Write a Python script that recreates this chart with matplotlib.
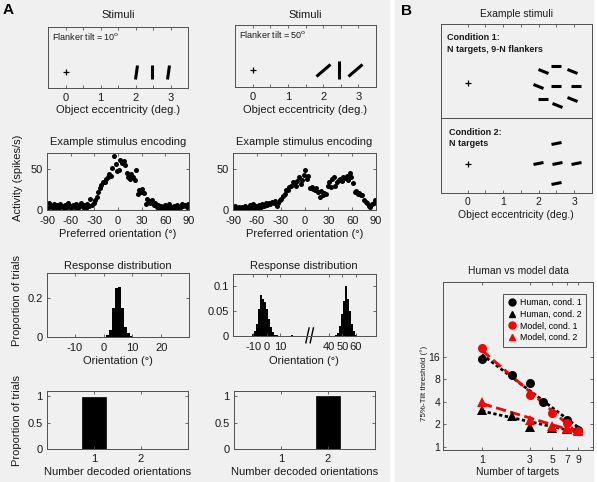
import numpy as np
import matplotlib
matplotlib.use('Agg')
import matplotlib.pyplot as plt
from matplotlib.markers import MarkerStyle
from matplotlib.transforms import Affine2D, blended_transform_factory
from matplotlib.lines import Line2D
from matplotlib.patches import Rectangle
from matplotlib.ticker import NullLocator

plt.rcParams['font.family'] = ['Liberation Sans', 'DejaVu Sans']
plt.rcParams['axes.unicode_minus'] = False

# ---------------- data ----------------
# Panel A stimuli: (eccentricity, tilt from vertical in degrees)
stim_left_x = [2.02, 2.48, 2.93]
stim_left_tilt = [10, 0, 10]
stim_right_x = [2.0, 2.45, 2.9]
stim_right_tilt = [50, 0, 50]

# Encoding (preferred orientation vs activity)
pref_ori = list(range(-89, 90, 2))
act_left = [3, 9, 5, 2, 7, 4, 6, 3, 7, 5, 2, 6, 4, 8, 5, 3, 6, 4, 7, 3, 5, 8, 4, 6, 3, 7, 5, 14, 6, 9,
            12, 16, 22, 27, 31, 35, 34, 38, 41, 44, 42, 51, 66, 57, 48, 49, 62, 58, 60, 55, 46, 41, 38, 44, 40,
            37, 49, 20, 24, 22, 26, 21, 7, 13, 11, 9, 12, 6, 8, 4, 6, 3, 5, 2, 6, 4, 3, 7, 4, 3,
            5, 2, 6, 4, 3, 7, 5, 6, 4, 7]
act_right = [4, 5, 3, 4, 2, 4, 3, 5, 2, 3, 6, 4, 7, 3, 5, 2, 6, 4, 7, 5, 8, 6, 9, 7, 10, 8, 11, 5, 9, 12,
             14, 17, 20, 24, 25, 28, 30, 35, 33, 30, 36, 40, 32, 37, 43, 49, 38, 42, 27, 28, 26, 24, 27, 22, 16,
             23, 18, 21, 20, 30, 34, 28, 38, 40, 30, 35, 37, 38, 36, 40, 39, 42, 37, 45, 40, 33, 22, 23, 20, 21,
             18, 19, 12, 10, 8, 5, 4, 7, 9, 12]

# Response distributions
hist_left_centers = [1.5, 2.5, 3.5, 4.5, 5.5, 6.5, 7.5, 8.5, 9.5, 12.5]
hist_left_props = [0.01, 0.035, 0.15, 0.252, 0.26, 0.15, 0.05, 0.02, 0.005, 0.002]
hist_right_centers = [-12, -10.5, -9, -7.5, -6, -4.5, -3, -1.5, 0, 1.5, 3, 4.5, 6, 7.5, 12, 19,
                      45, 46.5, 48, 49.5, 51, 52.5, 54, 55.5, 57, 58.5, 60]
hist_right_props = [0.001, 0.004, 0.01, 0.025, 0.055, 0.083, 0.075, 0.068, 0.055, 0.035, 0.018, 0.008, 0.003,
                    0.002, 0.001, 0.002,
                    0.002, 0.006, 0.02, 0.045, 0.07, 0.1, 0.075, 0.05, 0.025, 0.01, 0.003]

# Number of decoded orientations
n_decoded = [1, 2]
prop_left = [0.98, 0.005]
prop_right = [0.004, 1.0]

# Panel B stimuli: (x, y, orientation from horizontal)
cond1_x = [2.12, 2.5, 2.93, 1.98, 2.5, 3.05, 2.12, 2.52, 2.93]
cond1_y = [1.34, 1.49, 1.34, 0.91, 0.91, 0.91, 0.54, 0.38, 0.54]
cond1_ori = [-20, 0, -20, -20, 0, 0, 0, -20, -25]
cond2_x = [2.5, 1.98, 2.52, 3.05, 2.5]
cond2_y = [1.40, 0.83, 0.83, 0.85, 0.28]
cond2_ori = [15, 15, 15, 15, 15]

# Human vs model thresholds
human_n1 = [1, 2, 3, 4, 7, 9]
human_c1 = [14.7, 9.1, 7.2, 3.9, 2.3, 1.67]
human_n2 = [1, 2, 3, 5, 7, 9]
human_c2 = [3.1, 2.6, 1.85, 1.8, 1.7, 1.65]
model_n = [1, 3, 5, 7, 9]
model_c1 = [20.7, 4.9, 2.8, 2.1, 1.6]
model_c2 = [3.9, 2.3, 1.9, 1.75, 1.6]

# ---------------- figure ----------------
W, H = 597, 482
fig = plt.figure(figsize=(W / 100, H / 100), dpi=100)
fig.patch.set_facecolor('white')
BG = '#f0f0f0'
fig.add_artist(Rectangle((0, 0), 389 / W, 1, transform=fig.transFigure, color=BG, zorder=-10))
fig.add_artist(Rectangle((395 / W, 0), (593 - 395) / W, 1, transform=fig.transFigure, color=BG, zorder=-10))

AX_COL = '#505050'
TXT = '#1a1a1a'


def add_ax(l, t, r, b, fs=8, pad=4.0):
    ax = fig.add_axes([l / W, 1 - b / H, (r - l) / W, (b - t) / H])
    ax.set_facecolor('none')
    for s in ax.spines.values():
        s.set_linewidth(0.7)
        s.set_color(AX_COL)
    ax.tick_params(direction='in', length=2.5, width=0.6, color=AX_COL, top=True, right=True,
                   labelsize=fs, pad=pad, labelcolor=TXT)
    ax.tick_params(axis='y', pad=3.0)
    return ax


def ftext(x, y, s, **kw):
    kw.setdefault('ha', 'center')
    kw.setdefault('va', 'center')
    kw.setdefault('fontsize', 8)
    kw.setdefault('color', TXT)
    fig.text(x / W, 1 - y / H, s, **kw)


def bar_marker(angle, base='|'):
    return MarkerStyle(base, transform=Affine2D().rotate_deg(angle))


half_ticks = np.arange(0, 3.01, 0.5)
half_labels = ['0', '', '1', '', '2', '', '3']

# ---- A: stimuli ----
for (l, t, r, b), xs, tilts, tiltlabel, msz, yc in [
        ((48, 27, 188, 88), stim_left_x, stim_left_tilt, '10', 10, 0.26),
        ((235, 25, 376, 87), stim_right_x, stim_right_tilt, '50', 13, 0.27)]:
    ax = add_ax(l, t, r, b, pad=3.5)
    ax.set_xlim(-0.5, 3.5)
    ax.set_ylim(0, 1)
    ax.set_xticks(half_ticks)
    ax.set_xticklabels(half_labels)
    ax.set_yticks([])
    ax.plot([0], [yc + 0.01], marker='+', color='k', markersize=4, mew=0.9)
    for xv, tv in zip(xs, tilts):
        ax.plot([xv], [yc], marker=bar_marker(-tv), color='k', markersize=msz, mew=2.2, linestyle='none')
    ax.text(0.03, 0.85, 'Flanker tilt = ' + tiltlabel + r'$^{\rm o}$', transform=ax.transAxes,
            fontsize=6.5, ha='left', va='center', color=TXT)
    ftext((l + r) / 2, 15, 'Stimuli')
    ftext((l + r) / 2, 110, 'Object eccentricity (deg.)')

# ---- A: encoding ----
for (l, t, r, b), act in [((47, 153, 189, 210), act_left), ((233, 153, 376, 210), act_right)]:
    ax = add_ax(l, t, r, b, pad=4.5)
    ax.plot(pref_ori, act, 'o', color='k', markersize=3.6, mew=0)
    ax.set_xlim(-90, 90)
    ax.set_ylim(0, 70)
    ax.set_xticks(range(-90, 91, 30))
    ax.set_yticks([0, 50])
    ftext((l + r) / 2, 142, 'Example stimulus encoding')
    ftext((l + r) / 2, 234, 'Preferred orientation (°)')
ftext(18, 178, 'Activity (spikes/s)', rotation=90)

# ---- A: response distributions ----
ax = add_ax(47, 273, 189, 337, pad=4.5)
ax.bar(hist_left_centers, hist_left_props, width=1.0, color='k', linewidth=0)
ax.set_xlim(-19.5, 29.5)
ax.set_ylim(0, 0.33)
ax.set_xticks([-10, 0, 10, 20])
ax.set_yticks([0, 0.2])
ax.set_yticklabels(['0', '0.2'])
ftext(118, 266, 'Response distribution')
ftext(118, 361, 'Orientation (°)')

SHIFT = 6  # axis break offset for orientations beyond the break
hr_u = [c if c < 25 else c + SHIFT for c in hist_right_centers]
ax = add_ax(233, 274, 376, 336, pad=4.5)
ax.bar(hr_u, hist_right_props, width=1.5, color='k', linewidth=0)
ax.set_xlim(-25, 81)
ax.set_ylim(0, 0.125)
tick_vals = [-10, 0, 10, 40, 50, 60]
ax.set_xticks([v if v < 25 else v + SHIFT for v in tick_vals])
ax.set_xticklabels([str(v) for v in tick_vals])
ax.set_yticks([0, 0.05, 0.1])
ax.set_yticklabels(['0', '0.05', '0.1'])
tr = blended_transform_factory(ax.transData, ax.transAxes)
for x0 in (29.0, 32.2):
    ax.add_line(Line2D([x0, x0 + 2.4], [-0.11, 0.13], transform=tr, color='k', lw=1.0, clip_on=False))
ftext(304, 266, 'Response distribution')
ftext(304, 361, 'Orientation (°)')
ftext(17, 300, 'Proportion of trials', rotation=90)

# ---- A: number decoded ----
for (l, t, r, b), props in [((47, 391, 188, 449), prop_left), ((234, 391, 375, 449), prop_right)]:
    ax = add_ax(l, t, r, b, pad=3.5)
    ax.bar(n_decoded, props, width=0.5, color='k', edgecolor='k', linewidth=0.5)
    ax.set_xlim(0, 3)
    ax.set_ylim(0, 1.1)
    ax.set_xticks(n_decoded)
    ax.set_yticks([0, 0.5, 1])
    ax.set_yticklabels(['0', '0.5', '1'])
    ftext((l + r) / 2, 472, 'Number decoded orientations')
ftext(17, 420, 'Proportion of trials', rotation=90)

# ---- B: example stimuli ----
axt = add_ax(441, 24, 592, 118.3, fs=7.5)
axt.set_xlim(-0.75, 3.5)
axt.set_ylim(0, 94.3 / 35.33)
axt.set_xticks(half_ticks)
axt.tick_params(bottom=False, labelbottom=False, left=False, right=False, labelleft=False)
axt.set_yticks([])
axt.plot([0], [0.99], marker='+', color='k', markersize=4, mew=0.9)
for xv, yv, o in zip(cond1_x, cond1_y, cond1_ori):
    axt.plot([xv], [yv], marker=bar_marker(o, '_'), color='k', markersize=7.5, mew=2.2, linestyle='none')
axt.text(0.04, 0.9, 'Condition 1:\nN targets, 9-N flankers', transform=axt.transAxes, fontsize=6.5,
         fontweight='bold', ha='left', va='top', color=TXT, linespacing=1.3)

axb = add_ax(441, 118.3, 592, 192.7, fs=7.5, pad=3.0)
axb.set_xlim(-0.75, 3.5)
axb.set_ylim(0, 74.4 / 35.33)
axb.set_xticks(half_ticks)
axb.set_xticklabels(half_labels)
axb.tick_params(top=False, left=False, right=False)
axb.set_yticks([])
axb.plot([0], [0.81], marker='+', color='k', markersize=4, mew=0.9)
for xv, yv, o in zip(cond2_x, cond2_y, cond2_ori):
    axb.plot([xv], [yv], marker=bar_marker(o, '_'), color='k', markersize=7.5, mew=2.2, linestyle='none')
axb.text(0.05, 0.87, 'Condition 2:\nN targets', transform=axb.transAxes, fontsize=6.5,
         fontweight='bold', ha='left', va='top', color=TXT, linespacing=1.3)
ftext(516, 14, 'Example stimuli', fontsize=7.5)
ftext(516, 215, 'Object eccentricity (deg.)', fontsize=7.5)

# ---- B: human vs model ----
ax = add_ax(443, 282, 593, 450, fs=7.5, pad=3.5)
ax.set_xscale('log')
ax.set_yscale('log')
ax.tick_params(axis='y', pad=2.0)


def fit_line(n, v):
    p = np.polyfit(np.log(n), np.log(v), 1)
    xx = np.array([min(n), max(n)], dtype=float)
    return xx, np.exp(np.polyval(p, np.log(xx)))


dot = (0, (1.2, 0.9))
for n, v, c, ls in [(human_n1, human_c1, 'k', dot), (human_n2, human_c2, 'k', dot),
                    (model_n, model_c1, 'r', '--'), (model_n, model_c2, 'r', '--')]:
    xx, yy = fit_line(n, v)
    ax.plot(xx, yy, color=c, linestyle=ls, lw=2.0, zorder=2)
ax.plot(human_n1, human_c1, 'o', color='k', markersize=6.5, mew=0, zorder=3)
ax.plot(human_n2, human_c2, '^', color='k', markersize=6.5, mew=0, zorder=3)
ax.plot(model_n, model_c1, 'o', color='r', markersize=6.5, mew=0, zorder=4)
ax.plot(model_n, model_c2, '^', color='r', markersize=6.5, mew=0, zorder=4)
ax.set_xlim(0.41, 12.7)
ax.set_ylim(0.9, 160)
ax.set_xticks([1, 3, 5, 7, 9])
ax.set_xticklabels(['1', '3', '5', '7', '9'])
ax.set_yticks([1, 2, 4, 8, 16])
ax.set_yticklabels(['1', '2', '4', '8', '16'])
ax.xaxis.set_minor_locator(NullLocator())
ax.yaxis.set_minor_locator(NullLocator())
handles = [Line2D([], [], marker='o', color='k', linestyle='none', markersize=5),
           Line2D([], [], marker='^', color='k', linestyle='none', markersize=5),
           Line2D([], [], marker='o', color='r', linestyle='none', markersize=5),
           Line2D([], [], marker='^', color='r', linestyle='none', markersize=5)]
leg = ax.legend(handles, ['Human, cond. 1', 'Human, cond. 2', 'Model, cond. 1', 'Model, cond. 2'],
                loc='upper right', bbox_to_anchor=(0.985, 0.955), fontsize=6.3, frameon=True,
                fancybox=False, handlelength=1.0, handletextpad=0.5, borderpad=0.5, labelspacing=0.3,
                edgecolor=AX_COL, framealpha=1)
leg.get_frame().set_facecolor(BG)
leg.get_frame().set_linewidth(0.7)
ftext(518, 271, 'Human vs model data', fontsize=7.5)
ftext(518, 472, 'Number of targets', fontsize=7.5)
ftext(424, 383, '75%-Tilt threshold (°)', fontsize=5.8, rotation=90)

# panel letters
ftext(8, 10, 'A', fontsize=11, fontweight='bold', color='k')
ftext(407, 11, 'B', fontsize=11, fontweight='bold', color='k')

fig.savefig('out.png', dpi=100, facecolor=fig.get_facecolor())
